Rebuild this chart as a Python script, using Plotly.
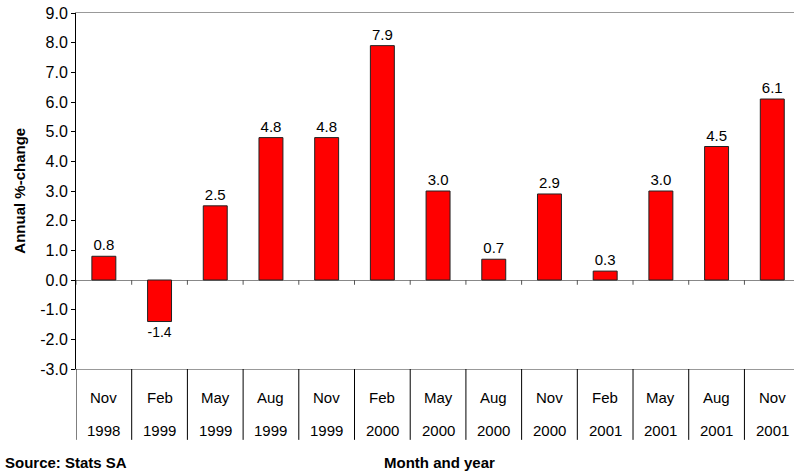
import plotly.graph_objects as go

months = ["Nov", "Feb", "May", "Aug", "Nov", "Feb", "May", "Aug", "Nov", "Feb", "May", "Aug", "Nov"]
years = ["1998", "1999", "1999", "1999", "1999", "2000", "2000", "2000", "2000", "2001", "2001", "2001", "2001"]
values = [0.8, -1.4, 2.5, 4.8, 4.8, 7.9, 3.0, 0.7, 2.9, 0.3, 3.0, 4.5, 6.1]
y_ticks = [-3, -2, -1, 0, 1, 2, 3, 4, 5, 6, 7, 8, 9]

FONT = "Liberation Sans, Arial, sans-serif"
n = len(values)
idx = list(range(n))

fig = go.Figure()
fig.add_trace(go.Bar(
    x=idx, y=values,
    marker=dict(color="#FF0000", line=dict(color="#222222", width=1)),
    width=0.43,
    text=[f"{v:.1f}" for v in values],
    textposition="outside",
    textfont=dict(family=FONT, size=15, color="black"),
    cliponaxis=False,
))

shapes = []
for i in range(n + 1):
    xb = i - 0.5
    shapes.append(dict(type="line", xref="x", yref="y", x0=xb, x1=xb, y0=0, y1=-0.16,
                       line=dict(color="#555555", width=1)))
    shapes.append(dict(type="line", xref="x", yref="paper", x0=xb, x1=xb, y0=0, y1=-0.199,
                       line=dict(color="black", width=1)))

annotations = []
for i, (m, yr) in enumerate(zip(months, years)):
    annotations.append(dict(x=i, y=-0.079, xref="x", yref="paper", text=m, showarrow=False,
                            xanchor="center", yanchor="middle",
                            font=dict(family=FONT, size=15, color="black")))
    annotations.append(dict(x=i, y=-0.173, xref="x", yref="paper", text=yr, showarrow=False,
                            xanchor="center", yanchor="middle",
                            font=dict(family=FONT, size=15, color="black")))

annotations.append(dict(x=-0.078, y=0.501, xref="paper", yref="paper", text="<b>Annual %-change</b>",
                        textangle=-90, showarrow=False, xanchor="center", yanchor="middle",
                        font=dict(family=FONT, size=15, color="black")))
annotations.append(dict(x=0.5056, y=-0.262, xref="paper", yref="paper", text="<b>Month and year</b>",
                        showarrow=False, xanchor="center", yanchor="middle",
                        font=dict(family=FONT, size=15, color="black")))
annotations.append(dict(x=-0.1017, y=-0.262, xref="paper", yref="paper", text="<b>Source: Stats SA</b>",
                        xanchor="left", yanchor="middle", showarrow=False,
                        font=dict(family=FONT, size=15, color="black")))

fig.update_layout(
    width=794, height=473,
    margin=dict(l=76, r=0, t=13, b=104),
    plot_bgcolor="white", paper_bgcolor="white",
    showlegend=False,
    hovermode=False,
    xaxis=dict(range=[-0.5, 12.39], showticklabels=False, ticks="", showgrid=False,
               showline=True, linecolor="#999999", linewidth=1, mirror=True, zeroline=False, fixedrange=True),
    yaxis=dict(range=[-3, 9], tickvals=y_ticks, ticktext=[f"{t:.1f}" for t in y_ticks],
               showgrid=False, showline=True, linecolor="black", linewidth=1,
               ticks="outside", ticklen=4, tickcolor="black", ticklabeloverflow="allow",
               zeroline=True, zerolinecolor="#888888", zerolinewidth=1,
               tickfont=dict(family=FONT, size=16, color="black"), fixedrange=True),
    shapes=shapes,
    annotations=annotations,
)

fig.write_html("out.html", config={"displayModeBar": False},
               post_script="document.body.style.margin='0';document.body.style.overflow='hidden';")
